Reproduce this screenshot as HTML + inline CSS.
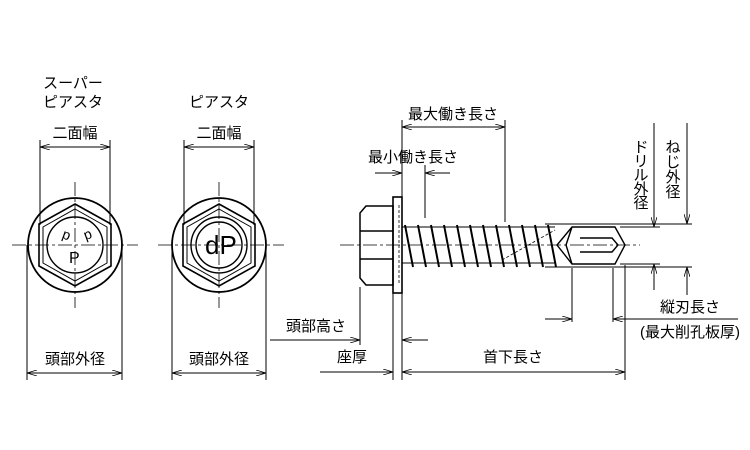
<!DOCTYPE html>
<html><head><meta charset="utf-8"><style>
html,body{margin:0;padding:0;background:#fff;}
svg{display:block;}
text{font-family:"Liberation Sans","Noto Sans CJK JP",sans-serif;font-size:15px;fill:#000;}
</style></head><body>
<svg width="750" height="450" viewBox="0 0 750 450" xmlns="http://www.w3.org/2000/svg">
<defs>
<marker id="a" viewBox="0 0 10 6" refX="10" refY="3" markerWidth="10" markerHeight="6" orient="auto-start-reverse" markerUnits="userSpaceOnUse">
<path d="M0,0 L10,3 L0,6" fill="none" stroke="#000" stroke-width="0.8"/></marker>
</defs>
<g stroke="#000" fill="none" stroke-width="1">
<path d="M12,245 H138 M75,182 V308 M158,245 H284 M219,182 V308" stroke-dasharray="14,3,3,3" stroke-width="0.8"/>
<circle cx="75" cy="245" r="47" stroke-width="1.8"/>
<polygon points="75,204 111,224 111,266 75,286 39,266 39,224" stroke-width="1.6"/>
<polygon points="75,209 107,227 107,263 75,281 43,263 43,227" stroke-width="1"/>
<circle cx="75" cy="245" r="28" stroke-width="1.4"/>
<circle cx="219" cy="245" r="47" stroke-width="1.8"/>
<polygon points="219,204 255,224 255,266 219,286 183,266 183,224" stroke-width="1.6"/>
<polygon points="219,209 251,227 251,263 219,281 187,263 187,227" stroke-width="1"/>
<circle cx="219" cy="245" r="28" stroke-width="1.4"/>
<circle cx="219" cy="245" r="23" stroke-width="1.4"/>
<path d="M40,140 V225 M110,140 V225"/>
<line x1="40" y1="147" x2="110" y2="147" marker-start="url(#a)" marker-end="url(#a)"/>
<path d="M27,245 V380 M122,245 V380"/>
<line x1="27" y1="373" x2="122" y2="373" marker-start="url(#a)" marker-end="url(#a)"/>
<path d="M184,140 V225 M254,140 V225"/>
<line x1="184" y1="147" x2="254" y2="147" marker-start="url(#a)" marker-end="url(#a)"/>
<path d="M172,245 V380 M266,245 V380"/>
<line x1="172" y1="373" x2="266" y2="373" marker-start="url(#a)" marker-end="url(#a)"/>
<path d="M340,245 H640" stroke-dasharray="14,3,3,3" stroke-width="0.8"/>
<path d="M366,206 H393 V285 H366 L360,278 V213 Z M360,231 H393 M360,259 H393" stroke-width="1.5"/>
<rect x="393" y="197" width="9" height="96" stroke-width="1.6"/>
<path d="M399,205 V285" stroke-dasharray="3,2" stroke-width="0.8"/>
<path d="M402,227 H555 M402,263 H555" stroke-width="1"/>
<path d="M405,225 L413,267 M418,225 L426,267 M431,225 L439,267 M444,225 L452,267 M457,225 L465,267 M470,225 L478,267 M483,225 L491,267 M496,225 L504,267 M509,225 L517,267 M522,225 L530,267 M535,225 L543,267 M548,225 L556,267" stroke-width="2"/>
<path d="M502,260 L555,230" stroke-dasharray="3,2" stroke-width="0.8"/>
<path d="M572,227 H615 L625,245 L615,264 H572 L557,245 Z M572,227 L566,245 L572,264 M580,238 H612 L618,245 L612,252 H580" stroke-width="1.4"/>
<path d="M402,120 V380 M505,120 V222 M425,165 V218 M393,290 V380 M360,287 V345 M625,265 V380 M572,268 V322 M613,268 V322"/>
<line x1="402" y1="127" x2="505" y2="127" marker-start="url(#a)" marker-end="url(#a)"/>
<line x1="375" y1="173" x2="402" y2="173" marker-end="url(#a)"/>
<line x1="450" y1="173" x2="425" y2="173" marker-end="url(#a)"/>
<path d="M545,224 H692 M545,267 H692 M620,227 H660 M620,264 H660"/>
<line x1="654" y1="123" x2="654" y2="227" marker-end="url(#a)"/>
<line x1="654" y1="290" x2="654" y2="264" marker-end="url(#a)"/>
<line x1="687" y1="123" x2="687" y2="224" marker-end="url(#a)"/>
<line x1="687" y1="295" x2="687" y2="267" marker-end="url(#a)"/>
<line x1="545" y1="319" x2="572" y2="319" marker-end="url(#a)"/>
<line x1="738" y1="319" x2="613" y2="319" marker-end="url(#a)"/>
<line x1="402" y1="372" x2="625" y2="372" marker-start="url(#a)" marker-end="url(#a)"/>
<line x1="320" y1="372" x2="393" y2="372" marker-end="url(#a)"/>
<line x1="270" y1="340" x2="360" y2="340" marker-end="url(#a)"/>
<line x1="428" y1="340" x2="402" y2="340" marker-end="url(#a)"/>
</g>
<g font-family="Liberation Sans" stroke="none">
<text x="205" y="254" style="font-size:26px">dP</text>
<text x="69" y="263" style="font-size:16px">P</text>
<text x="62" y="240" style="font-size:14px" transform="rotate(200 66 236)">d</text>
<text x="82" y="240" style="font-size:14px" transform="rotate(160 87 236)">d</text>
</g>
<g text-anchor="middle">
<text x="73" y="88">スーパー</text>
<text x="73" y="107">ピアスタ</text>
<text x="219" y="107">ピアスタ</text>
<text x="75" y="138">二面幅</text>
<text x="219" y="138">二面幅</text>
<text x="75" y="364">頭部外径</text>
<text x="219" y="364">頭部外径</text>
<text x="453" y="119">最大働き長さ</text>
<text x="413" y="162">最小働き長さ</text>
<text x="316" y="331">頭部高さ</text>
<text x="352" y="362">座厚</text>
<text x="513" y="362">首下長さ</text>
<text x="690" y="312">縦刃長さ</text>
<text x="690" y="337">(最大削孔板厚)</text>
</g>
<g text-anchor="middle" font-size="14">
<text transform="translate(640,146) rotate(-90)" style="font-size:14px"> </text>
<text x="641" y="152">ド</text><text x="641" y="166">リ</text><text x="641" y="180">ル</text><text x="641" y="194">外</text><text x="641" y="208">径</text>
<text x="673" y="152">ね</text><text x="673" y="167">じ</text><text x="673" y="182">外</text><text x="673" y="197">径</text>
</g>
</svg>
</body></html>
